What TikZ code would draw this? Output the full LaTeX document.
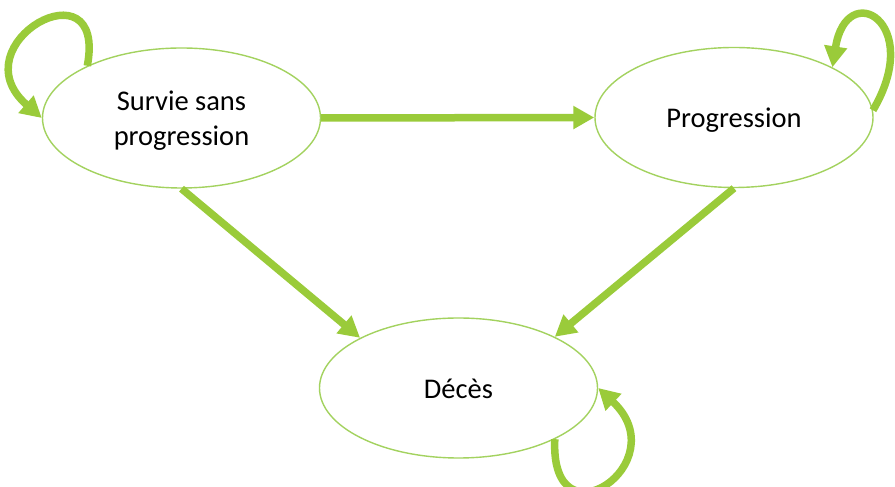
\documentclass[tikz,border=0pt]{standalone}
\usepackage{fontspec}
\setmainfont{Carlito}
\usetikzlibrary{shapes.geometric,arrows.meta}
\definecolor{arrowgreen}{RGB}{154,203,58}
\definecolor{edgegreen}{RGB}{163,210,95}
\newcommand{\lowertext}[1]{\raisebox{-3pt}[\height][\depth]{\begin{tabular}{@{}c@{}}#1\end{tabular}}}
\begin{document}
\begin{tikzpicture}[x=1pt,y=1pt,
  state/.style={ellipse,draw=edgegreen,line width=1.4pt,fill=white,inner sep=0pt,
    minimum width=278pt,minimum height=140pt,
    font=\fontsize{28.5}{35.5}\selectfont},
  flow/.style={draw=arrowgreen,line width=7.5pt,
    -{Triangle[width=22pt,length=21pt]}}]
\useasboundingbox (0,0) rectangle (895,487);
\node[state] (s) at (181.5,369) {\lowertext{Survie sans\\progression}};
\node[state] (p) at (734,369.5) {\lowertext{Progression}};
\node[state] (d) at (458.5,99) {\lowertext{Décès}};
\draw[flow] (s.east) -- (p.west);
\draw[flow] (s.south) -- (d.153);
\draw[flow] (p.south) -- (d.28);
\draw[flow] (s.151) .. controls +(20,106) and +(-85,74) .. (s.west);
\draw[flow] (p.3) .. controls +(52,88) and +(14,90) .. (p.27);
\draw[flow] (d.-28) .. controls +(-5,-110) and +(80,-75) .. (d.east);
\end{tikzpicture}
\end{document}
